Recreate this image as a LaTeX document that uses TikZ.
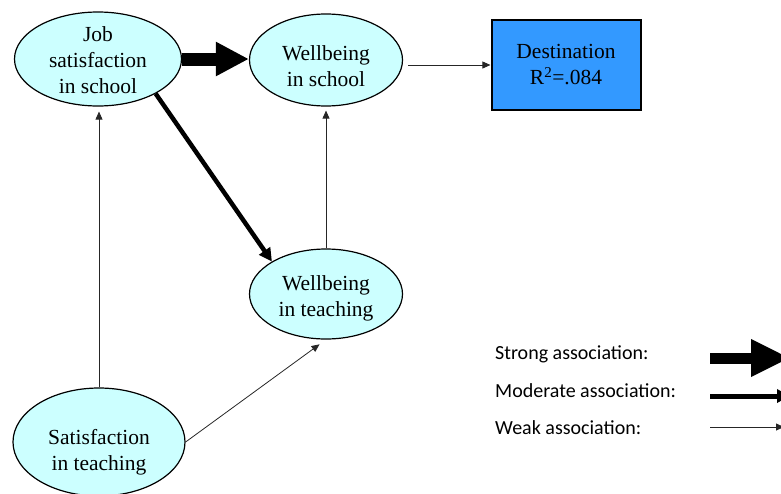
\documentclass[tikz,border=0pt]{standalone}
\usepackage{fontspec}
\setmainfont{Liberation Serif}
\newfontfamily\legendfont{Carlito}
\usetikzlibrary{arrows.meta,shapes.geometric}
\definecolor{nodefill}{RGB}{204,255,255}
\definecolor{destfill}{RGB}{51,153,255}
\begin{document}
\begin{tikzpicture}[x=1pt,y=-1pt,
  ell/.style={ellipse, draw=black, line width=1.2pt, fill=nodefill, inner sep=0pt},
  txt/.style={align=center, inner sep=0pt, font=\fontsize{21.5}{26}\selectfont},
  weak/.style={draw=black!85, line width=0.8pt, -{Triangle[length=8pt,width=7pt]}},
  moderate/.style={line width=4.5pt, -{Triangle[length=13pt,width=13pt]}},
  strong/.style={line width=13pt, -{Triangle[length=33pt,width=32pt]}},
  legstrong/.style={line width=11pt, -{Triangle[length=39pt,width=35pt]}},
  legmod/.style={line width=5pt, -{Triangle[length=13pt,width=13pt]}},
  leg/.style={anchor=base west, inner sep=0pt, font=\legendfont\fontsize{20}{24}\selectfont}]
\clip (0,0) rectangle (781,493);
% nodes
\node[ell, minimum width=167pt, minimum height=94pt] (job) at (98,59) {};
\node[ell, minimum width=153pt, minimum height=92pt] (ws) at (326,60) {};
\node[ell, minimum width=153pt, minimum height=90pt] (wt) at (326,294) {};
\node[ell, minimum width=172pt, minimum height=108pt] (sat) at (99,442) {};
\node[draw, line width=1.2pt, fill=destfill, minimum width=149pt, minimum height=90pt, inner sep=0pt] (dest) at (566.5,65) {};
% texts
\node[txt] (jobt) at (98,60) {Job\\satisfaction\\in school};
\node[txt] (wst) at (326,66) {Wellbeing\\in school};
\node[txt] (wtt) at (326,298) {Wellbeing\\in teaching};
\node[txt] (satt) at (99,452) {Satisfaction\\in teaching};
\node[txt] (destt) at (566,65) {Destination\\R\textsuperscript{2}=.084};
% connectors
\draw[strong] (job.east) -- (job.east -| ws.west);
\draw[moderate] (job.-31) -- (wt.149);
\draw[weak, shorten >=5pt] (sat.north) -- (sat.north |- job.south);
\draw[weak, shorten >=4pt] (wt.north) -- (ws.south);
\draw[weak, shorten >=8pt] (sat.east) -- (wt.south);
\draw[weak, shorten <=5pt, shorten >=1pt] (ws.east |- dest.west) -- (dest.west);
% legend
\node[leg] (l1) at (495,359) {Strong association:};
\node[leg] (l2) at (495,397) {Moderate association:};
\node[leg] (l3) at (495,434) {Weak association:};
\coordinate (s1a) at (710,358); \coordinate (s1b) at (790,358);
\coordinate (s2a) at (710,396); \coordinate (s2b) at (790,396);
\coordinate (s3a) at (710,427); \coordinate (s3b) at (784,427);
\draw[legstrong] (s1a) -- (s1b);
\draw[legmod] (s2a) -- (s2b);
\draw[weak] (s3a) -- (s3b);
\end{tikzpicture}
\end{document}
